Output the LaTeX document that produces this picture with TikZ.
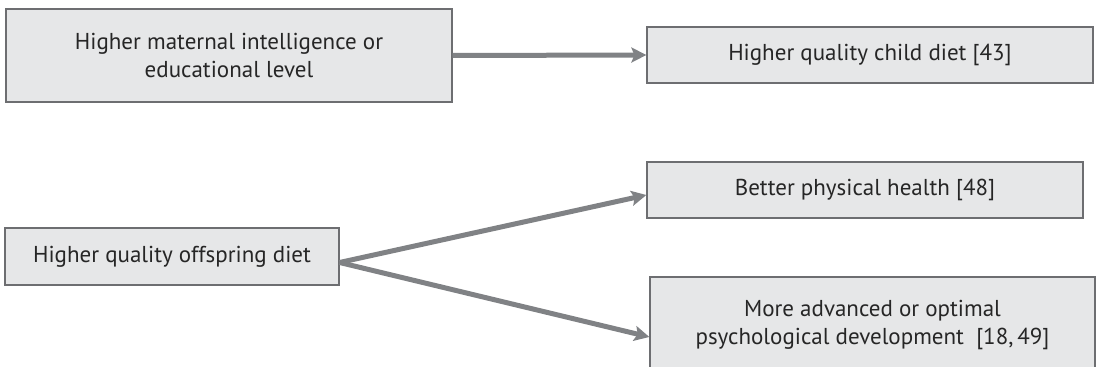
\documentclass[tikz,border=0pt]{standalone}
\usepackage{fontspec}
\setmainfont{PT Sans}
\usetikzlibrary{arrows.meta}
\definecolor{boxfill}{HTML}{E6E7E8}
\definecolor{boxline}{HTML}{6D6E71}
\definecolor{arrgray}{HTML}{808285}
\tikzset{>={Stealth[length=7.5pt, width=7.5pt, inset=1.5pt]},
  blk/.style={draw=boxline, fill=boxfill, line width=0.6pt, align=center, inner sep=0pt,
    font=\fontsize{11.5}{14}\selectfont, text=black!85},
  lnk/.style={->, draw=arrgray, line width=2.5pt}}

\begin{document}
\begin{tikzpicture}[x=0.5pt, y=-0.5pt]
  \clip (0,0) rectangle (1100,367);
  % causes
  \node[blk, minimum width=223pt, minimum height=46.5pt] (mat) at (229,55.5) {Higher maternal intelligence or\\educational level};
  \node[blk, minimum width=167pt, minimum height=28.5pt] (off) at (172,256.5) {Higher quality offspring diet};
  % outcomes
  \node[blk, minimum width=223pt, minimum height=28pt] (child) at (870,55) {Higher quality child diet [43]};
  \node[blk, minimum width=218pt, minimum height=28pt] (phys) at (865,190) {Better physical health [48]};
  \node[blk, minimum width=222.5pt, minimum height=48pt] (dev) at (872.5,325) {More advanced or optimal\\psychological development~~[18,\,49]};
  % links
  \draw[lnk] (mat.east) -- (child.west);
  \draw[lnk] ([yshift=-3pt]off.east) -- ([yshift=-2.5pt]phys.west);
  \draw[lnk] ([yshift=-3pt]off.east) -- ([yshift=-6pt]dev.west);
\end{tikzpicture}
\end{document}
